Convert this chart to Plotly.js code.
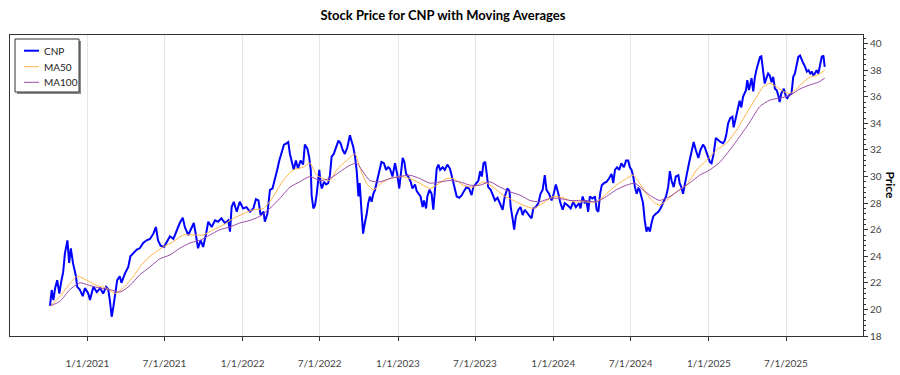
<!DOCTYPE html>
<html>
<head>
<meta charset="utf-8">
<script src="https://cdn.plot.ly/plotly-3.0.1.min.js"></script>
<style>html,body{margin:0;padding:0;background:#fff;}#chart{width:900px;height:375px;}</style>
</head>
<body>
<div id="chart"></div>
<script>
// ---- CNP close price ----
const cnpDates = [
"2020-10-05","2020-10-09","2020-10-13","2020-10-17","2020-10-22","2020-10-27","2020-11-01","2020-11-05","2020-11-09","2020-11-15",
"2020-11-19","2020-11-23","2020-11-28","2020-12-05","2020-12-08","2020-12-14","2020-12-21","2020-12-26","2021-01-03","2021-01-07",
"2021-01-15","2021-01-23","2021-01-31","2021-02-07","2021-02-14","2021-02-19","2021-02-23","2021-02-27","2021-03-03","2021-03-07",
"2021-03-12","2021-03-18","2021-03-22","2021-03-30","2021-04-07","2021-04-12","2021-04-19","2021-04-27","2021-05-04","2021-05-12",
"2021-05-20","2021-05-28","2021-06-05","2021-06-11","2021-06-16","2021-06-22","2021-06-30","2021-07-06","2021-07-14","2021-07-22",
"2021-07-30","2021-08-06","2021-08-13","2021-08-18","2021-08-26","2021-09-03","2021-09-08","2021-09-13","2021-09-18","2021-09-24",
"2021-09-30","2021-10-07","2021-10-12","2021-10-20","2021-10-28","2021-11-04","2021-11-12","2021-11-20","2021-11-28","2021-12-02",
"2021-12-06","2021-12-11","2021-12-18","2021-12-25","2022-01-02","2022-01-10","2022-01-18","2022-01-26","2022-02-01","2022-02-07",
"2022-02-12","2022-02-19","2022-02-22","2022-02-28","2022-03-06","2022-03-12","2022-03-18","2022-03-23","2022-03-28","2022-04-02",
"2022-04-08","2022-04-14","2022-04-18","2022-04-22","2022-04-26","2022-05-01","2022-05-06","2022-05-11","2022-05-17","2022-05-23",
"2022-05-27","2022-06-02","2022-06-06","2022-06-10","2022-06-12","2022-06-16","2022-06-20","2022-06-24","2022-06-30",
"2022-07-03","2022-07-06","2022-07-11","2022-07-16","2022-07-21","2022-07-25","2022-07-29","2022-08-03","2022-08-08","2022-08-14",
"2022-08-19","2022-08-24","2022-08-29","2022-09-04","2022-09-10","2022-09-14","2022-09-18","2022-09-22","2022-09-26","2022-09-30",
"2022-10-03","2022-10-07","2022-10-11","2022-10-15","2022-10-19","2022-10-23","2022-10-27","2022-10-31","2022-11-04","2022-11-08",
"2022-11-13","2022-11-19","2022-11-23","2022-11-29","2022-12-04","2022-12-09","2022-12-13","2022-12-19","2022-12-25","2022-12-30",
"2023-01-04","2023-01-07","2023-01-12","2023-01-16","2023-01-20","2023-01-25","2023-01-31","2023-02-04","2023-02-10","2023-02-14",
"2023-02-18","2023-02-23","2023-02-28","2023-03-03","2023-03-08","2023-03-11","2023-03-16","2023-03-21","2023-03-25","2023-03-29",
"2023-04-02","2023-04-06","2023-04-10","2023-04-16","2023-04-21","2023-04-27","2023-05-03","2023-05-07","2023-05-11","2023-05-15",
"2023-05-19","2023-05-25","2023-05-31","2023-06-05","2023-06-11","2023-06-17","2023-06-23","2023-06-27","2023-07-03","2023-07-09",
"2023-07-13","2023-07-17","2023-07-21","2023-07-25","2023-07-29","2023-08-01","2023-08-07","2023-08-12","2023-08-17","2023-08-23",
"2023-08-29","2023-09-04","2023-09-09","2023-09-15","2023-09-20","2023-09-23","2023-09-28","2023-10-01","2023-10-05","2023-10-11",
"2023-10-16","2023-10-21","2023-10-26","2023-11-01","2023-11-07","2023-11-11","2023-11-15","2023-11-21","2023-11-27","2023-12-02",
"2023-12-07","2023-12-12","2023-12-16","2023-12-22","2023-12-28","2024-01-02","2024-01-07","2024-01-13","2024-01-17","2024-01-23",
"2024-01-28","2024-02-05","2024-02-11","2024-02-17","2024-02-23","2024-03-02",
"2024-03-05","2024-03-10","2024-03-15","2024-03-19","2024-03-23","2024-03-27","2024-04-02","2024-04-08","2024-04-12","2024-04-16",
"2024-04-20","2024-04-24","2024-04-29","2024-05-05","2024-05-11","2024-05-17","2024-05-21","2024-05-25","2024-05-30","2024-06-04",
"2024-06-09","2024-06-15","2024-06-20","2024-06-25","2024-06-29","2024-07-03","2024-07-07","2024-07-11","2024-07-15","2024-07-19",
"2024-07-22","2024-07-26","2024-07-30","2024-08-03","2024-08-07","2024-08-11","2024-08-15","2024-08-19","2024-08-23","2024-08-29",
"2024-09-04","2024-09-09","2024-09-15","2024-09-22","2024-09-27","2024-10-01","2024-10-05","2024-10-10","2024-10-15","2024-10-21",
"2024-10-24","2024-10-28","2024-11-01","2024-11-05","2024-11-10","2024-11-15","2024-11-21","2024-11-26","2024-12-01","2024-12-07",
"2024-12-12","2024-12-18","2024-12-22","2024-12-28","2025-01-03","2025-01-07","2025-01-12","2025-01-17","2025-01-23","2025-01-28",
"2025-02-03","2025-02-07","2025-02-11","2025-02-15","2025-02-20","2025-02-25","2025-02-28","2025-03-05","2025-03-11","2025-03-14",
"2025-03-18","2025-03-22","2025-03-29","2025-04-01","2025-04-05","2025-04-11","2025-04-15","2025-04-19","2025-04-23","2025-04-27",
"2025-05-01","2025-05-04","2025-05-08","2025-05-12","2025-05-16","2025-05-20","2025-05-24","2025-05-28","2025-06-01","2025-06-05",
"2025-06-09","2025-06-13","2025-06-16","2025-06-20","2025-06-26","2025-07-01","2025-07-04","2025-07-08","2025-07-14","2025-07-18",
"2025-07-22","2025-07-26","2025-07-30","2025-08-03","2025-08-07","2025-08-11","2025-08-15","2025-08-19","2025-08-23","2025-08-27",
"2025-08-31","2025-09-03","2025-09-07","2025-09-11","2025-09-15","2025-09-19","2025-09-23","2025-09-27","2025-09-30"
];
const cnpPrice = [
20.26,21.46,20.7,21.6,22.2,21.2,22.2,22.8,24.2,25.2,
23.5,24.6,23.5,22.5,21.7,21.5,21.0,21.6,21.2,20.7,
21.7,21.3,21.6,21.2,21.7,21.5,20.6,19.45,20.2,21.0,
22.2,22.5,22.0,22.7,23.2,24.0,24.2,24.5,24.6,25.0,
25.2,25.3,25.7,26.2,25.2,24.8,24.7,25.0,25.5,25.3,
26.0,26.5,26.9,26.2,25.6,26.1,26.5,25.6,24.6,25.2,
24.7,25.7,26.6,26.2,26.7,26.6,26.85,26.5,26.7,25.85,
27.7,28.1,27.35,28.1,27.6,27.7,27.35,27.6,28.3,28.2,
27.1,27.35,26.6,27.2,29.0,29.1,30.0,30.5,31.2,31.7,
32.4,32.5,32.6,31.7,31.1,30.5,31.2,30.6,31.2,30.9,
32.4,32.1,31.5,30.5,28.6,27.6,27.85,28.7,30.5,
29.5,29.1,29.6,29.4,29.5,30.1,31.5,31.7,32.1,32.7,
32.5,32.0,31.7,32.2,33.1,32.7,32.2,31.5,30.4,28.5,
29.5,27.5,25.7,26.5,27.1,28.0,28.5,28.1,28.7,29.0,
29.7,30.7,31.1,31.0,30.5,30.7,30.6,30.0,31.0,30.2,
29.1,30.0,31.4,31.1,30.2,30.0,29.6,29.1,29.4,28.9,
28.7,28.5,27.7,28.2,27.6,28.5,29.0,28.7,27.5,29.1,
30.6,30.9,30.5,30.7,30.5,30.9,30.6,30.1,29.6,29.0,
28.5,28.4,28.6,28.9,29.2,29.1,28.6,29.2,29.5,29.7,
30.4,30.0,31.0,31.1,30.1,29.2,29.0,28.6,28.2,28.4,
28.0,27.5,28.5,29.1,28.9,27.7,26.7,26.0,27.0,27.5,
27.7,27.1,27.5,27.2,27.0,26.85,27.6,27.7,28.0,28.7,
29.0,30.1,29.0,28.7,28.2,28.7,29.4,28.7,28.1,27.5,
28.0,27.8,27.6,28.1,27.7,28.0,
27.6,28.5,28.0,28.2,27.35,28.5,28.35,28.5,27.5,27.35,
28.7,29.35,29.5,29.6,29.85,30.2,29.5,30.5,30.7,30.5,
31.0,30.7,31.2,31.2,30.7,30.5,30.0,29.2,28.7,29.1,
29.0,28.5,28.0,26.7,25.85,26.2,25.85,26.5,27.0,27.2,
27.35,27.6,28.0,28.5,29.2,30.4,29.7,29.2,30.0,30.1,
29.5,29.2,28.7,29.5,30.2,31.0,32.0,32.6,32.0,31.4,
32.0,32.4,32.2,31.7,31.1,31.0,31.7,32.9,32.7,32.6,
32.5,32.7,33.2,34.0,34.4,34.5,33.7,34.4,35.2,35.7,
35.2,36.0,36.5,37.25,36.5,37.4,36.4,37.5,38.1,38.5,
39.0,39.05,38.0,37.0,37.4,37.75,37.6,37.1,37.5,36.6,
36.5,36.1,35.6,36.25,36.6,36.0,35.9,36.1,36.25,37.5,
37.75,38.5,39.0,39.1,38.75,38.5,38.25,37.9,38.0,37.75,
37.9,37.6,37.75,38.0,37.75,38.4,39.0,39.1,38.25
];

// ---- 50-day moving average ----
const ma50Dates = [
"2020-10-05","2020-10-28","2020-11-21","2020-12-08","2020-12-30","2021-01-23","2021-02-15","2021-03-07","2021-03-26","2021-04-19",
"2021-05-12","2021-06-05","2021-06-28","2021-07-22","2021-08-14","2021-09-07","2021-09-30","2021-10-24","2021-11-16","2021-12-10",
"2022-01-02","2022-01-26","2022-02-19","2022-03-14","2022-04-06","2022-04-30","2022-05-23","2022-06-08",
"2022-06-24","2022-07-09","2022-07-25","2022-08-10","2022-09-02","2022-09-22","2022-10-03","2022-10-19","2022-11-04","2022-11-23",
"2022-12-13","2023-01-05","2023-01-29","2023-02-21","2023-03-17","2023-04-02","2023-04-25","2023-05-11","2023-06-03","2023-06-27",
"2023-07-21","2023-08-13","2023-09-05","2023-09-29","2023-10-22","2023-11-15","2023-12-08","2024-01-01","2024-01-24","2024-02-17",
"2024-03-12","2024-04-12","2024-05-05","2024-05-28","2024-06-21","2024-07-07","2024-07-22","2024-08-07","2024-08-23","2024-09-07",
"2024-09-23","2024-10-17","2024-11-09","2024-12-03","2024-12-26","2025-01-19","2025-02-11","2025-03-07","2025-03-30","2025-04-23",
"2025-05-08","2025-05-24","2025-06-09","2025-06-25","2025-07-10","2025-07-26","2025-08-11","2025-08-27","2025-09-11","2025-09-30"
];
const ma50Values = [
20.26,20.95,21.96,22.5,22.2,21.8,21.6,21.2,21.6,22.5,
23.5,24.2,24.7,25.1,25.6,25.6,25.6,26.0,26.35,26.85,
27.2,27.5,27.6,28.5,29.7,30.5,30.7,31.0,
30.1,29.85,29.7,30.5,31.2,31.7,30.7,29.5,29.0,29.5,
29.85,30.0,29.85,29.5,29.1,29.35,29.85,29.85,29.35,29.2,
29.6,29.2,28.6,28.2,27.85,27.6,28.0,28.5,28.4,28.1,
28.1,28.1,28.7,29.35,29.85,30.1,29.5,28.7,28.1,27.85,
28.2,28.85,29.35,30.5,31.2,32.0,32.5,33.5,34.75,36.0,
36.75,37.0,36.75,36.4,36.25,36.6,37.1,37.5,37.6,38.0
];

// ---- 100-day moving average ----
const ma100Dates = [
"2020-10-05","2020-10-28","2020-11-21","2020-12-14","2021-01-07","2021-01-31","2021-02-23","2021-03-18","2021-04-11","2021-05-04",
"2021-05-28","2021-06-20","2021-07-14","2021-08-06","2021-08-30","2021-09-22","2021-10-16","2021-11-08","2021-12-02","2021-12-25",
"2022-01-18","2022-02-10","2022-03-06","2022-03-29","2022-04-22","2022-05-15","2022-06-08",
"2022-07-01","2022-07-25","2022-08-17","2022-09-10","2022-09-26","2022-10-11","2022-10-27","2022-11-19","2022-12-13","2023-01-05",
"2023-01-29","2023-02-21","2023-03-17","2023-04-10","2023-05-03","2023-05-26","2023-06-19","2023-07-13","2023-08-05","2023-08-29",
"2023-09-21","2023-10-15","2023-11-07","2023-11-30","2023-12-24","2024-01-16","2024-02-09",
"2024-03-12","2024-04-12","2024-05-05","2024-05-28","2024-06-21","2024-07-11","2024-07-30","2024-08-19","2024-09-07","2024-10-01",
"2024-10-24","2024-11-16","2024-12-10","2025-01-03","2025-01-27","2025-02-19","2025-03-14","2025-04-07","2025-04-30","2025-05-24",
"2025-06-16","2025-07-10","2025-08-03","2025-08-27","2025-09-15","2025-09-30"
];
const ma100Values = [
20.26,20.6,21.5,22.0,21.8,21.6,21.5,21.3,21.8,22.6,
23.2,23.8,24.1,24.6,25.0,25.2,25.6,26.0,26.2,26.5,
26.7,27.0,27.6,28.35,29.2,29.6,30.0,
29.7,29.85,30.35,30.85,31.0,30.35,29.7,29.6,29.85,30.0,
30.1,29.85,29.5,29.6,29.7,29.6,29.35,29.35,29.6,29.2,
28.85,28.6,28.2,28.1,28.35,28.35,28.2,
28.2,28.1,28.5,29.0,29.35,29.5,29.0,28.5,28.2,28.5,
29.0,29.5,30.1,30.5,31.1,32.0,33.0,34.1,35.25,35.75,
35.9,36.1,36.6,36.9,37.1,37.4
];

// ---- series names / colours and axis ticks ----
const seriesNames = ["CNP", "MA50", "MA100"];
const seriesColors = ["#0000FF", "#FFB347", "#9B4DA8"];
const xTickVals = ["2021-01-01","2021-07-01","2022-01-01","2022-07-01","2023-01-01","2023-07-01","2024-01-01","2024-07-01","2025-01-01","2025-07-01"];
const xTickText = ["1/1/2021","7/1/2021","1/1/2022","7/1/2022","1/1/2023","7/1/2023","1/1/2024","7/1/2024","1/1/2025","7/1/2025"];

const FONT = "Lato, 'Open Sans', sans-serif";

const traces = [
  {x: cnpDates, y: cnpPrice, name: seriesNames[0], type: "scatter", mode: "lines",
   line: {color: seriesColors[0], width: 2}},
  {x: ma50Dates, y: ma50Values, name: seriesNames[1], type: "scatter", mode: "lines",
   line: {color: seriesColors[1], width: 1, shape: "spline", smoothing: 0.6}},
  {x: ma100Dates, y: ma100Values, name: seriesNames[2], type: "scatter", mode: "lines",
   line: {color: seriesColors[2], width: 1, shape: "spline", smoothing: 0.6}}
];

// custom legend box (with drop shadow), anchored to the plot's top-left corner in pixels
const legendShapes = [
  {type: "rect", xref: "paper", yref: "paper", xsizemode: "pixel", ysizemode: "pixel",
   xanchor: 0, yanchor: 1, x0: 7, x1: 71, y0: -59, y1: -6,
   fillcolor: "#8a8a8a", line: {width: 0}, layer: "above"},
  {type: "rect", xref: "paper", yref: "paper", xsizemode: "pixel", ysizemode: "pixel",
   xanchor: 0, yanchor: 1, x0: 5, x1: 69, y0: -57, y1: -4,
   fillcolor: "#ffffff", line: {color: "#333", width: 1}, layer: "above"}
];
const legendRowsY = [-15.7, -31.7, -47.3];
const legendLineW = [2, 1, 1];
const legendAnn = [];
seriesNames.forEach((nm, i) => {
  legendShapes.push({type: "line", xref: "paper", yref: "paper", xsizemode: "pixel", ysizemode: "pixel",
    xanchor: 0, yanchor: 1, x0: 14, x1: 29, y0: legendRowsY[i], y1: legendRowsY[i],
    line: {color: seriesColors[i], width: legendLineW[i]}, layer: "above"});
  legendAnn.push({text: nm, xref: "paper", yref: "paper", x: 0, y: 1, xshift: 32, yshift: legendRowsY[i],
    xanchor: "left", yanchor: "middle", showarrow: false,
    font: {family: FONT, size: 10, color: "#222"}});
});

const layout = {
  width: 900, height: 375,
  margin: {l: 10, r: 37, t: 35, b: 39},
  paper_bgcolor: "#ffffff", plot_bgcolor: "#ffffff",
  font: {family: FONT, size: 10, color: "#444"},
  showlegend: false,
  title: {text: "<b>Stock Price for CNP with Moving Averages</b>",
          font: {family: FONT, size: 13, color: "#000"},
          x: 0.5076, xref: "paper", xanchor: "center", y: 0.96, yref: "container", yanchor: "middle"},
  xaxis: {type: "date", range: ["2020-07-03", "2025-12-29"],
          tickmode: "array", tickvals: xTickVals, ticktext: xTickText,
          showgrid: true, gridcolor: "#e6e6e6", gridwidth: 1,
          ticks: "outside", ticklen: 4, tickcolor: "#333",
          showline: true, linecolor: "#333", linewidth: 1, mirror: true,
          tickfont: {family: FONT, size: 10, color: "#444"},
          ticklabelstandoff: 14, zeroline: false},
  yaxis: {side: "right", range: [18, 40.65], dtick: 2, tick0: 18,
          showgrid: false, zeroline: false,
          ticks: "outside", ticklen: 4, tickcolor: "#333",
          minor: {dtick: 0.4, ticks: "outside", ticklen: 2, tickcolor: "#333", showgrid: false},
          showline: true, linecolor: "#333", linewidth: 1, mirror: true,
          tickfont: {family: FONT, size: 10, color: "#444"}},
  shapes: legendShapes,
  annotations: [
    {text: "<b>Price</b>", xref: "paper", yref: "paper", x: 1.0317, y: 0.5,
     xanchor: "center", yanchor: "middle", textangle: 90, showarrow: false,
     font: {family: FONT, size: 12, color: "#000"}}
  ].concat(legendAnn)
};

Plotly.newPlot("chart", traces, layout, {displayModeBar: false, staticPlot: true});
</script>
</body>
</html>
